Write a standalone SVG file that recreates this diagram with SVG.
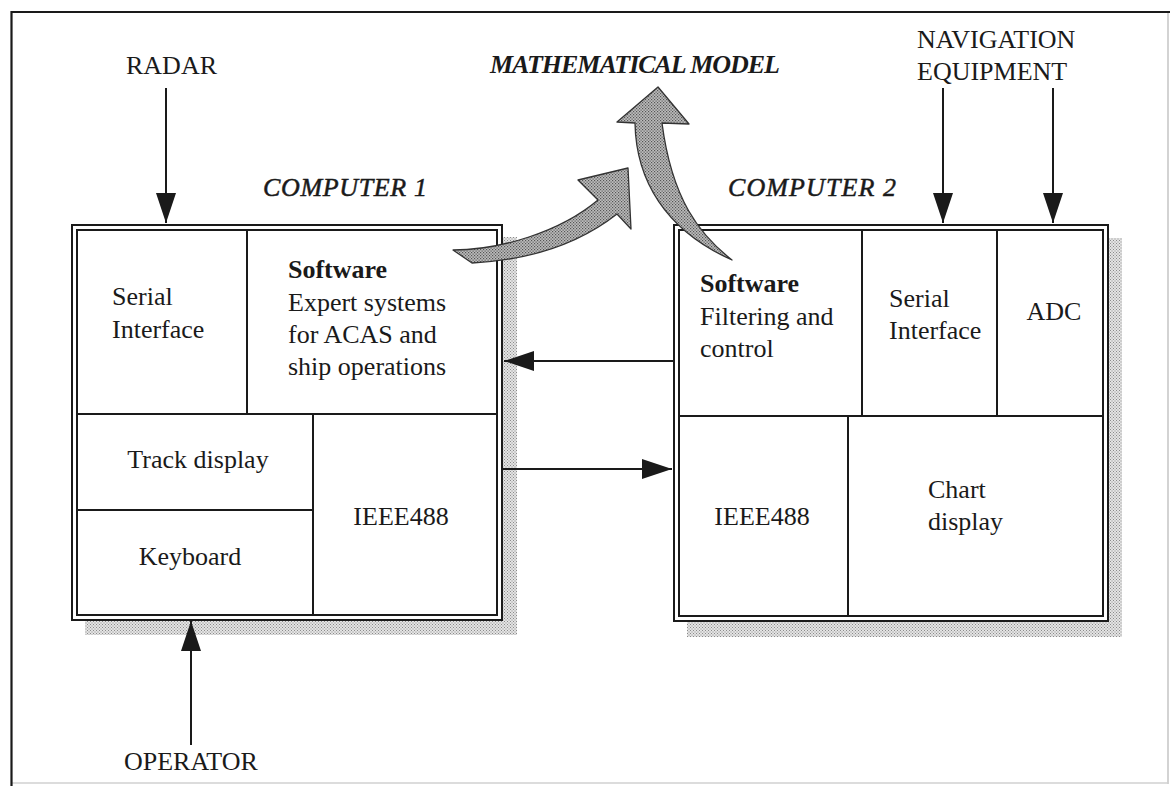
<svg xmlns="http://www.w3.org/2000/svg" width="1172" height="788" viewBox="0 0 1172 788">
  <style>
    .t { font-family: "Liberation Serif", "Times New Roman", serif; font-size: 26px; fill: #1a1a1a; }
    .b { font-weight: bold; }
    .i { font-style: italic; }
    .ci { stroke: #1a1a1a; stroke-width: 0.5; }
    .c { text-anchor: middle; }
    .box { fill: #ffffff; stroke: #1a1a1a; stroke-width: 2; }
    .frame { fill: none; stroke: #1a1a1a; stroke-width: 2; }
    .cell { fill: none; stroke: #1a1a1a; stroke-width: 2; }
    .wire { fill: none; stroke: #1a1a1a; stroke-width: 2; }
    .shadow { fill: url(#stippleLight); }
    .flow { fill: url(#stippleDark); stroke: #333; stroke-width: 1.3; stroke-linejoin: round; }
  </style>
  <defs>
    <pattern id="stippleLight" width="3" height="3" patternUnits="userSpaceOnUse">
      <rect width="3" height="3" fill="#e4e4e4"/>
      <rect x="0" y="0" width="1" height="1" fill="#8a8a8a"/>
      <rect x="1.5" y="1.5" width="1" height="1" fill="#8a8a8a"/>
    </pattern>
    <pattern id="stippleDark" width="3" height="3" patternUnits="userSpaceOnUse">
      <rect width="3" height="3" fill="#bdbdbd"/>
      <rect x="0" y="0" width="1.2" height="1.2" fill="#555"/>
      <rect x="1.5" y="1.5" width="1.2" height="1.2" fill="#555"/>
    </pattern>
    <marker id="head" markerUnits="userSpaceOnUse" markerWidth="30" markerHeight="20" refX="30" refY="10" orient="auto">
      <path d="M0,0 L30,10 L0,20 Z" fill="#1a1a1a"/>
    </marker>
  </defs>

  <!-- page frame -->
  <rect x="0" y="0" width="1172" height="788" fill="#ffffff"/>
  <line x1="1168" y1="12" x2="1168" y2="784" stroke="#c4c4c4" stroke-width="1.5"/>
  <line x1="11" y1="783" x2="1168" y2="783" stroke="#d0d0d0" stroke-width="1.5"/>
  <polyline points="11.5,786 11.5,12 1170,12" fill="none" stroke="#1a1a1a" stroke-width="2.2"/>

  <!-- external labels -->
  <g id="radar"><text class="t" x="126" y="74">RADAR</text></g>
  <g id="operator"><text class="t" x="124" y="770">OPERATOR</text></g>
  <g id="navigation">
    <text class="t" x="917" y="48">NAVIGATION</text>
    <text class="t" x="917" y="80">EQUIPMENT</text>
  </g>
  <g id="model"><text class="t b i" x="490" y="73" font-size="24" textLength="290">MATHEMATICAL MODEL</text></g>

  <!-- computer 1 -->
  <g id="computer1">
    <text class="t i ci" x="263" y="196" textLength="164">COMPUTER 1</text>
    <rect class="shadow" x="85" y="237" width="432" height="398"/>
    <rect class="box" x="72" y="225" width="430" height="395"/>
    <rect class="frame" x="77" y="230" width="420" height="385"/>
    <line class="cell" x1="77" y1="414" x2="497" y2="414"/>
    <line class="cell" x1="247" y1="230" x2="247" y2="414"/>
    <line class="cell" x1="313" y1="414" x2="313" y2="615"/>
    <line class="cell" x1="77" y1="510" x2="313" y2="510"/>
    <text class="t" x="112" y="305">Serial</text>
    <text class="t" x="112" y="338">Interface</text>
    <text class="t b" x="288" y="278">Software</text>
    <text class="t" x="288" y="311">Expert systems</text>
    <text class="t" x="288" y="343">for ACAS and</text>
    <text class="t" x="288" y="375">ship operations</text>
    <text class="t c" x="198" y="468">Track display</text>
    <text class="t c" x="190" y="565">Keyboard</text>
    <text class="t c" x="401" y="525">IEEE488</text>
  </g>

  <!-- computer 2 -->
  <g id="computer2">
    <text class="t i ci" x="728" y="196" textLength="168">COMPUTER 2</text>
    <rect class="shadow" x="687" y="238" width="435" height="399"/>
    <rect class="box" x="674" y="225" width="434" height="396"/>
    <rect class="frame" x="679" y="230" width="424" height="386"/>
    <line class="cell" x1="679" y1="416" x2="1103" y2="416"/>
    <line class="cell" x1="862" y1="230" x2="862" y2="416"/>
    <line class="cell" x1="997" y1="230" x2="997" y2="416"/>
    <line class="cell" x1="848" y1="416" x2="848" y2="616"/>
    <text class="t b" x="700" y="292">Software</text>
    <text class="t" x="700" y="325">Filtering and</text>
    <text class="t" x="700" y="357">control</text>
    <text class="t" x="889" y="307">Serial</text>
    <text class="t" x="889" y="339">Interface</text>
    <text class="t c" x="1054" y="320">ADC</text>
    <text class="t c" x="762" y="525">IEEE488</text>
    <text class="t" x="928" y="498">Chart</text>
    <text class="t" x="928" y="530">display</text>
  </g>

  <!-- connectors -->
  <g id="connectors">
    <line class="wire" x1="166" y1="88" x2="166" y2="223" marker-end="url(#head)"/>
    <line class="wire" x1="191" y1="745" x2="191" y2="621" marker-end="url(#head)"/>
    <line class="wire" x1="943" y1="88" x2="943" y2="223" marker-end="url(#head)"/>
    <line class="wire" x1="1053" y1="88" x2="1053" y2="223" marker-end="url(#head)"/>
    <line class="wire" x1="674" y1="361" x2="504" y2="361" marker-end="url(#head)"/>
    <line class="wire" x1="503" y1="469" x2="672" y2="469" marker-end="url(#head)"/>
    <!-- data exchange with the mathematical model -->
    <path class="flow" d="M453,250 C500,250 560,232 598,200 L578,180 L628,168 L631,229 L617,214 C580,243 530,260 472,263 Z"/>
    <path class="flow" d="M732,260 C700,235 672,200 662,123 L689,124 L658,87 L617,122 L635,123 C636,180 665,230 732,260 Z"/>
  </g>
</svg>
